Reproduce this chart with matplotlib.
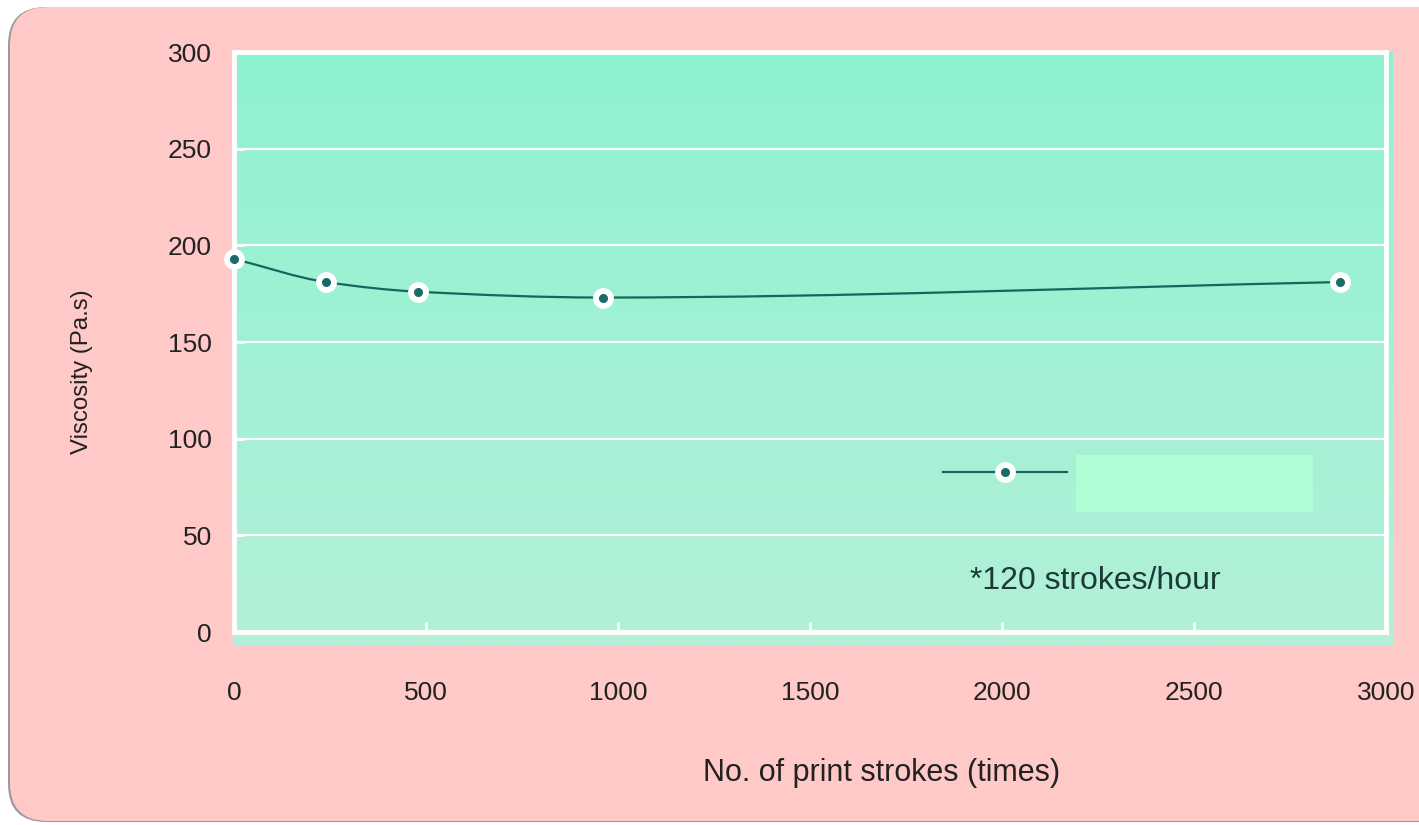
import numpy as np
import matplotlib
matplotlib.use("Agg")
import matplotlib.pyplot as plt
from matplotlib.patches import FancyBboxPatch, Rectangle, PathPatch
from matplotlib.path import Path
from matplotlib.lines import Line2D
from matplotlib.transforms import IdentityTransform

# ---------------------------------------------------------
# Data
# ---------------------------------------------------------
strokes = [0, 240, 480, 960, 2880]
viscosity = [193, 181, 176, 173, 181]
x_ticks = [0, 500, 1000, 1500, 2000, 2500, 3000]
y_ticks = [0, 50, 100, 150, 200, 250, 300]

PINK = "#fec9c6"
LINE = "#17655f"
DOT = "#1b6a6a"
TEXT = "#222222"

plt.rcParams["font.family"] = ["Liberation Sans", "DejaVu Sans"]


def smooth_path(xs, ys):
    """Monotone cubic (Fritsch-Carlson) through the points, as bezier path."""
    xs = np.asarray(xs, float)
    ys = np.asarray(ys, float)
    h = np.diff(xs)
    d = np.diff(ys) / h
    m = np.zeros_like(ys)
    m[0], m[-1] = d[0], d[-1]
    for i in range(1, len(xs) - 1):
        if d[i - 1] * d[i] <= 0:
            m[i] = 0.0
        else:
            w1 = 2 * h[i] + h[i - 1]
            w2 = h[i] + 2 * h[i - 1]
            m[i] = (w1 + w2) / (w1 / d[i - 1] + w2 / d[i])
    verts = [(xs[0], ys[0])]
    codes = [Path.MOVETO]
    for i in range(len(xs) - 1):
        verts += [(xs[i] + h[i] / 3, ys[i] + m[i] * h[i] / 3),
                  (xs[i + 1] - h[i] / 3, ys[i + 1] - m[i + 1] * h[i] / 3),
                  (xs[i + 1], ys[i + 1])]
        codes += [Path.CURVE4] * 3
    return Path(verts, codes)


fig = plt.figure(figsize=(14.19, 8.25), dpi=100)
fig.patch.set_facecolor("white")

# pink rounded panel (pixel coords)
shadow = FancyBboxPatch((8, 3), 1450, 815, boxstyle="round,pad=0,rounding_size=38",
                        transform=IdentityTransform(), facecolor="#9a9a9a",
                        edgecolor="none", zorder=-3)
panel = FancyBboxPatch((10, 4), 1450, 814, boxstyle="round,pad=0,rounding_size=38",
                       transform=IdentityTransform(), facecolor=PINK,
                       edgecolor="none", zorder=-2)
fig.patches.extend([shadow, panel])

W, H = 1419, 825
ax = fig.add_axes([234 / W, (H - 632) / H, (1386 - 234) / W, (632 - 52) / H])
ax.set_facecolor("none")
ax.set_xlim(0, 3000)
ax.set_ylim(0, 300)

# gradient fill of the plot area
grad = np.linspace(0, 1, 256).reshape(-1, 1)
cmap = matplotlib.colors.LinearSegmentedColormap.from_list("g", ["#8ef2d0", "#b3f0d8"])
ax.imshow(grad, aspect="auto", cmap=cmap, extent=[0, 1.006, -0.022, 1],
          transform=ax.transAxes, zorder=0, clip_on=False)

# grid and frame
ax.set_yticks(y_ticks)
ax.set_xticks(x_ticks)
ax.grid(axis="y", color="white", linewidth=1.6, zorder=1)
for s in ax.spines.values():
    s.set_color("white")
    s.set_linewidth(3.5)
    s.set_zorder(2)
ax.tick_params(direction="in", color="white", length=7, width=2,
               labelsize=19, labelcolor=TEXT)
ax.tick_params(axis="y", pad=16)
ax.tick_params(axis="x", pad=35)

# series
ax.add_patch(PathPatch(smooth_path(strokes, viscosity), facecolor="none",
                       edgecolor=LINE, linewidth=1.6, zorder=3, clip_on=False))
ax.plot(strokes, viscosity, linestyle="none", marker="o", markersize=14,
        markerfacecolor="white", markeredgecolor="white", zorder=4, clip_on=False)
ax.plot(strokes, viscosity, linestyle="none", marker="o", markersize=5.5,
        markerfacecolor=DOT, markeredgecolor=DOT, zorder=5, clip_on=False)

# legend: line with marker + blank label box
h_line = Line2D([], [], color=LINE, linewidth=1.6, marker="o", markersize=14,
                markerfacecolor="white", markeredgecolor="white")
h_dot = Line2D([], [], linestyle="none", marker="o", markersize=5.5,
               markerfacecolor=DOT, markeredgecolor=DOT)
ax.legend(handles=[(h_line, h_dot)], labels=[""], loc="center left",
          bbox_to_anchor=((943 - 234) / 1152, 0.272), frameon=False,
          handlelength=5.6, fontsize=16, borderpad=0, handletextpad=0,
          borderaxespad=0)
ax.add_patch(Rectangle((0.731, 0.207), 0.206, 0.098, transform=ax.transAxes,
                       facecolor="#b0fed6", edgecolor="none", zorder=6))

ax.text((970 - 234) / 1152, 0.088, "*120 strokes/hour", transform=ax.transAxes,
        fontsize=23, color="#1c3a36", va="center", ha="left", zorder=6)

fig.text(82 / W, 1 - 372 / H, "Viscosity (Pa.s)", rotation=90, fontsize=17.3,
         color=TEXT, ha="center", va="center")
fig.text(882 / W, 1 - 773 / H, "No. of print strokes (times)", fontsize=22,
         color=TEXT, ha="center", va="center")

fig.savefig("out.png", dpi=100, facecolor=fig.get_facecolor())
